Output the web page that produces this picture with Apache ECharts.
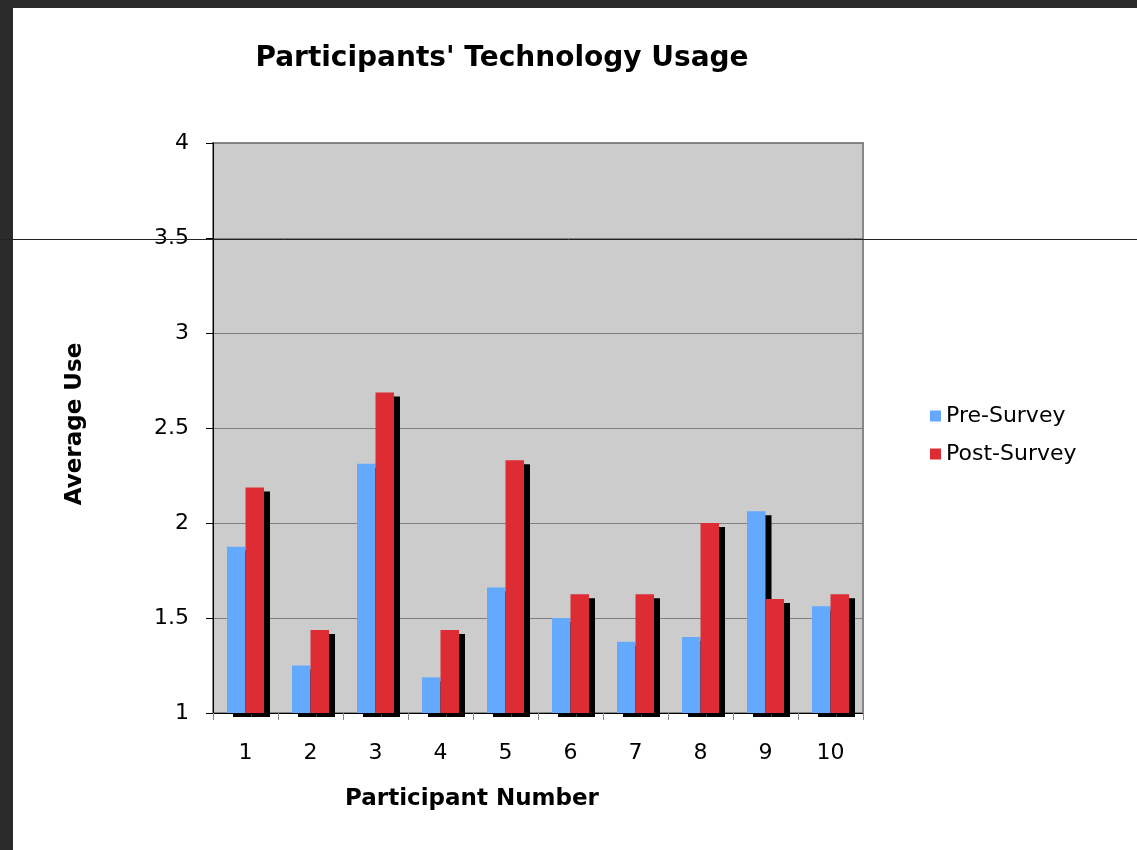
<!DOCTYPE html>
<html>
<head>
<meta charset="utf-8">
<script src="https://cdn.jsdelivr.net/npm/echarts@6/dist/echarts.min.js"></script>
<style>
html,body{margin:0;padding:0;background:#2b2b2b;}
#wrap{position:absolute;left:13px;top:8px;width:1124px;height:842px;background:#fff;}
#c{position:absolute;left:-13px;top:-8px;width:1137px;height:850px;}
</style>
</head>
<body>
<div id="wrap"><div id="c"></div></div>
<script>
const categories = ['1','2','3','4','5','6','7','8','9','10'];
const preSurvey = [1.875, 1.25, 2.3125, 1.1875, 1.66, 1.5, 1.375, 1.4, 2.0625, 1.5625];
const postSurvey = [2.1875, 1.4375, 2.6875, 1.4375, 2.33, 1.625, 1.625, 2.0, 1.6, 1.625];
const yTicks = [1, 1.5, 2, 2.5, 3, 3.5, 4];

const chart = echarts.init(document.getElementById('c'));
const font = 'DejaVu Sans, Verdana, sans-serif';
const barStyle = c => ({color: c, shadowColor: '#000', shadowBlur: 0, shadowOffsetX: 6, shadowOffsetY: 4});
chart.setOption({
  animation: false,
  title: {
    text: "Participants' Technology Usage",
    left: 497, top: 40, textAlign: 'center',
    textStyle: {fontFamily: font, fontWeight: 'bold', fontSize: 28, color: '#000'}
  },
  legend: {
    orient: 'vertical', left: 925, top: 400,
    itemWidth: 11, itemHeight: 11, itemGap: 16,
    icon: 'rect',
    textStyle: {fontFamily: font, fontSize: 22, color: '#000'},
    data: ['Pre-Survey', 'Post-Survey']
  },
  grid: {
    left: 213, top: 143, width: 650, height: 570,
    show: true, backgroundColor: '#cccccc', borderColor: '#888', borderWidth: 2
  },
  xAxis: {
    type: 'category', data: categories,
    name: 'Participant Number', nameLocation: 'middle', nameGap: 75,
    nameTextStyle: {fontFamily: font, fontWeight: 'bold', fontSize: 23, color: '#000', padding: [0, 132, 0, 0]},
    axisLine: {lineStyle: {color: '#000', width: 1}},
    axisTick: {show: true, length: 7, lineStyle: {color: '#888'}},
    axisLabel: {fontFamily: font, fontSize: 22, color: '#000', margin: 29}
  },
  yAxis: {
    type: 'value', min: 1, max: 4, interval: 0.5,
    name: 'Average Use', nameLocation: 'middle', nameGap: 126,
    nameTextStyle: {fontFamily: font, fontWeight: 'bold', fontSize: 23, color: '#000', padding: [0, 0, 0, 8]},
    axisLine: {show: true, lineStyle: {color: '#000', width: 1}},
    axisTick: {show: true, length: 7, lineStyle: {color: '#000'}},
    axisLabel: {fontFamily: font, fontSize: 22, color: '#000', margin: 24,
      formatter: v => yTicks.includes(v) ? String(v) : ''},
    splitLine: {show: true, lineStyle: {color: '#808080', width: 1}}
  },
  series: [
    {name: 'Pre-Survey', type: 'bar', data: preSurvey, barWidth: 18.5, barGap: '0%',
     itemStyle: barStyle('#63aaff')},
    {name: 'Post-Survey', type: 'bar', data: postSurvey, barWidth: 18.5, barGap: '0%',
     itemStyle: barStyle('#dd2c33')}
  ],
  graphic: [
    {type: 'line', shape: {x1: 0, y1: 239.5, x2: 1137, y2: 239.5}, style: {stroke: '#222', lineWidth: 1}, z: 100}
  ]
});
</script>
</body>
</html>
